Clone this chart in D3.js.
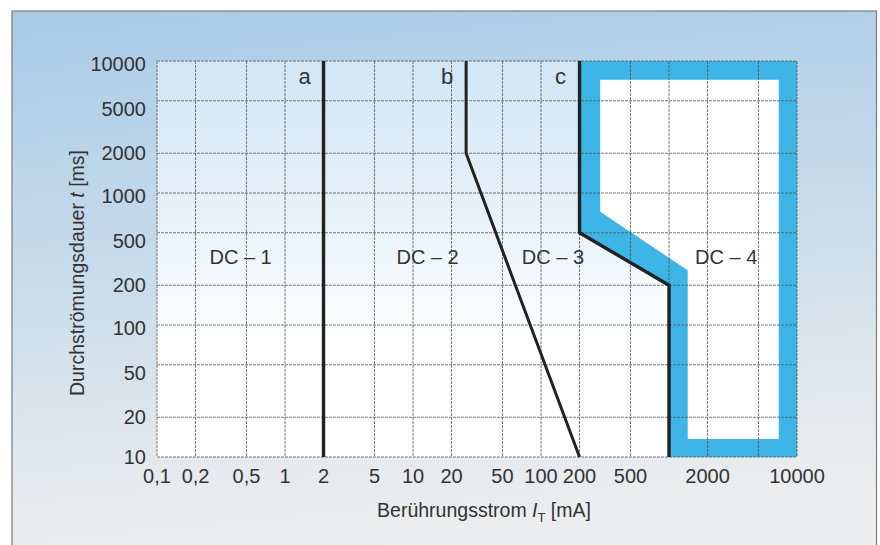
<!DOCTYPE html>
<html>
<head>
<meta charset="utf-8">
<script src="https://cdn.jsdelivr.net/npm/d3@7"></script>
<style>
  html, body { margin: 0; padding: 0; background: #fff; }
  svg { display: block; }
  text { font-family: "Liberation Sans", Arial, Helvetica, sans-serif; fill: #333; }
</style>
</head>
<body>
<svg id="chart" width="880" height="545"></svg>
<script>
// ---- data ----
const xTicks = [0.1, 0.2, 0.5, 1, 2, 5, 10, 20, 50, 100, 200, 500, 1000, 2000, 5000, 10000];
const xTickLabels = ["0,1", "0,2", "0,5", "1", "2", "5", "10", "20", "50", "100", "200", "500", "", "2000", "", "10000"];
const yTicks = [10, 20, 50, 100, 200, 500, 1000, 2000, 5000, 10000];
const yTickLabels = ["10", "20", "50", "100", "200", "500", "1000", "2000", "5000", "10000"];

// curves: [current mA, duration ms]
const curveA = [[2, 10], [2, 10000]];
const curveB = [[26, 10000], [26, 2000], [200, 10]];
const curveC = [[200, 10000], [200, 500], [1000, 200], [1000, 10]];
// DC-4 highlighted band (outer boundary, inner white area)
const dc4Outer = [[200, 10000], [200, 500], [1000, 200], [1000, 10], [10000, 10], [10000, 10000]];
const dc4Inner = [[290, 7200], [290, 720], [1400, 260], [1400, 13.7], [7200, 13.7], [7200, 7200]];

const curveLabels = [{t: "a", x: 2, y: 10000}, {t: "b", x: 26, y: 10000}, {t: "c", x: 200, y: 10000}];
const zoneLabels = [
  {t: "DC – 1", x: 0.45, y: 330},
  {t: "DC – 2", x: 13, y: 330},
  {t: "DC – 3", x: 124, y: 330},
  {t: "DC – 4", x: 2800, y: 330}
];

// ---- layout ----
const svg = d3.select("#chart");
const L = 157, R = 797, T = 61, B = 457;
const x = d3.scaleLog().domain([0.1, 10000]).range([L, R]);
const y = d3.scaleLog().domain([10, 10000]).range([B, T]);

const defs = svg.append("defs");
const og = defs.append("linearGradient").attr("id", "outerGrad")
  .attr("x1", 0).attr("y1", 0).attr("x2", 0.15).attr("y2", 1);
og.append("stop").attr("offset", "0%").attr("stop-color", "#a9cbe6");
og.append("stop").attr("offset", "45%").attr("stop-color", "#c6dbeb");
og.append("stop").attr("offset", "85%").attr("stop-color", "#e6eaed");
og.append("stop").attr("offset", "100%").attr("stop-color", "#eceeef");

const pg = defs.append("linearGradient").attr("id", "plotGrad")
  .attr("x1", 0).attr("y1", 0).attr("x2", 0).attr("y2", 1);
pg.append("stop").attr("offset", "0%").attr("stop-color", "#d2e6f6");
pg.append("stop").attr("offset", "40%").attr("stop-color", "#e8f1f9");
pg.append("stop").attr("offset", "70%").attr("stop-color", "#ffffff");
pg.append("stop").attr("offset", "100%").attr("stop-color", "#ffffff");

// outer panel
svg.append("rect").attr("x", 12).attr("y", 11).attr("width", 864.5).attr("height", 560)
  .attr("fill", "url(#outerGrad)").attr("stroke", "#7a7a7a").attr("stroke-width", 1.2);

// plot background
svg.append("rect").attr("x", L).attr("y", T).attr("width", R - L).attr("height", B - T)
  .attr("fill", "url(#plotGrad)");

const line = d3.line().x(d => x(d[0])).y(d => y(d[1]));

// DC-4 band
svg.append("path").attr("d", line(dc4Outer) + "Z").attr("fill", "#3db6e7");
svg.append("path").attr("d", line(dc4Inner) + "Z").attr("fill", "#ffffff");

// grid
const grid = svg.append("g").attr("stroke", "#555").attr("stroke-width", 0.8)
  .attr("stroke-dasharray", "3,1").attr("fill", "none");
grid.selectAll(".gx").data(xTicks).join("line")
  .attr("x1", d => x(d)).attr("x2", d => x(d)).attr("y1", T).attr("y2", B);
grid.selectAll(".gy").data(yTicks).join("line")
  .attr("y1", d => y(d)).attr("y2", d => y(d)).attr("x1", L).attr("x2", R);

// curves
[curveA, curveB, curveC].forEach((c, i) => {
  svg.append("path").attr("d", line(c)).attr("fill", "none")
    .attr("stroke", "#222").attr("stroke-width", i === 1 ? 3 : 3.4)
    .attr("stroke-linejoin", "miter");
});

// x tick labels
svg.append("g").selectAll("text").data(xTicks).join("text")
  .attr("x", d => x(d)).attr("y", 483)
  .attr("text-anchor", "middle").attr("font-size", 20)
  .text((d, i) => xTickLabels[i]);

// y tick labels
svg.append("g").selectAll("text").data(yTicks).join("text")
  .attr("x", 146)
  .attr("y", (d, i) => {
    const lead = yTickLabels[i][0];
    const shift = lead === "5" ? 8 : (lead === "1" && d > 10 ? 3 : 0);
    return y(d) + 7 + shift;
  })
  .attr("text-anchor", "end").attr("font-size", 20)
  .text((d, i) => yTickLabels[i]);

// curve labels
svg.append("g").selectAll("text").data(curveLabels).join("text")
  .attr("x", d => x(d.x) - 19).attr("y", d => y(d.y) + 23)
  .attr("text-anchor", "middle").attr("font-size", 22)
  .text(d => d.t);

// zone labels
svg.append("g").selectAll("text").data(zoneLabels).join("text")
  .attr("x", d => x(d.x)).attr("y", d => y(d.y) + 7)
  .attr("text-anchor", "middle").attr("font-size", 20)
  .text(d => d.t);

// x axis title
const xt = svg.append("text").attr("x", 484).attr("y", 517)
  .attr("text-anchor", "middle").attr("font-size", 19.5);
xt.append("tspan").text("Berührungsstrom ");
xt.append("tspan").attr("font-style", "italic").text("I");
xt.append("tspan").attr("font-size", 13).attr("dy", 5).text("T");
xt.append("tspan").attr("dy", -5).text(" [mA]");

// y axis title
const yt = svg.append("text").attr("transform", "translate(84,273) rotate(-90)")
  .attr("text-anchor", "middle").attr("font-size", 19.5);
yt.append("tspan").text("Durchströmungsdauer ");
yt.append("tspan").attr("font-style", "italic").text("t");
yt.append("tspan").text(" [ms]");
</script>
</body>
</html>
